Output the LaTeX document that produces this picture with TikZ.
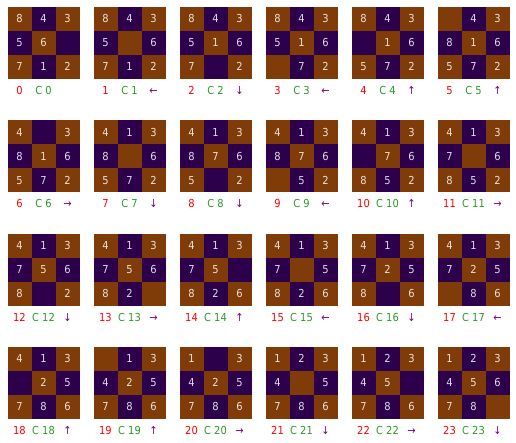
\documentclass[tikz,border=0pt]{standalone}
\usepackage{fontspec}
\setmainfont{DejaVu Sans Condensed}
\usetikzlibrary{positioning}
\definecolor{pieza}{HTML}{7F3B08}
\definecolor{hueco}{HTML}{2D004B}
\definecolor{verdec}{HTML}{2A9A2A}
\definecolor{morado}{HTML}{800080}
\tikzset{
    ficha/.style={
        rectangle,                   % casilla del tablero
        fill=#1,                     % color segun la paridad de la casilla
        minimum size=24pt,           % 3x3 casillas de 24pt
        inner sep=0pt,
        text=white, text opacity=0.85,
        text height=8pt, text depth=0pt,
        font=\fontsize{11}{13}\selectfont
    },
    etiqueta/.style={
        inner sep=0pt,
        text=#1,
        text height=8pt, text depth=0pt,
        font=\fontsize{11}{13}\selectfont
    }
}
\begin{document}
\begin{tikzpicture}[x=1pt,y=-1pt]
    \useasboundingbox[fill=white] (0,0) rectangle (516,443);
    \foreach \mov/\celdas [count=\k from 0] in {
        {}/{8,4,3,5,6,0,7,1,2},
        ←/{8,4,3,5,0,6,7,1,2},
        ↓/{8,4,3,5,1,6,7,0,2},
        ←/{8,4,3,5,1,6,0,7,2},
        ↑/{8,4,3,0,1,6,5,7,2},
        ↑/{0,4,3,8,1,6,5,7,2},
        →/{4,0,3,8,1,6,5,7,2},
        ↓/{4,1,3,8,0,6,5,7,2},
        ↓/{4,1,3,8,7,6,5,0,2},
        ←/{4,1,3,8,7,6,0,5,2},
        ↑/{4,1,3,0,7,6,8,5,2},
        →/{4,1,3,7,0,6,8,5,2},
        ↓/{4,1,3,7,5,6,8,0,2},
        →/{4,1,3,7,5,6,8,2,0},
        ↑/{4,1,3,7,5,0,8,2,6},
        ←/{4,1,3,7,0,5,8,2,6},
        ↓/{4,1,3,7,2,5,8,0,6},
        ←/{4,1,3,7,2,5,0,8,6},
        ↑/{4,1,3,0,2,5,7,8,6},
        ↑/{0,1,3,4,2,5,7,8,6},
        →/{1,0,3,4,2,5,7,8,6},
        ↓/{1,2,3,4,0,5,7,8,6},
        →/{1,2,3,4,5,0,7,8,6},
        ↓/{1,2,3,4,5,6,7,8,0}}{
        % esquina superior izquierda del tablero k
        \pgfmathsetmacro\bx{7.5+86*mod(\k,6)}
        \pgfmathsetmacro\by{7+113.3*div(\k,6)}
        \foreach \v [count=\n from 0] in \celdas {
            \pgfmathtruncatemacro\fila{div(\n,3)}
            \pgfmathtruncatemacro\col{mod(\n,3)}
            \ifodd\n \def\tono{hueco}\else\def\tono{pieza}\fi
            \node[ficha=\tono] (b\k-\n) at (\bx+12+24*\col,\by+12+24*\fila) {\ifnum\v>0 \v\fi};
        }
        \node[etiqueta=red, below=7pt of b\k-6] (idx\k) {\k};
        \node[etiqueta=verdec, below=7pt of b\k-7] (cap\k) {C \k};
        \node[etiqueta=morado, below=7pt of b\k-8] (mov\k) {\mov};
    }
\end{tikzpicture}
\end{document}
